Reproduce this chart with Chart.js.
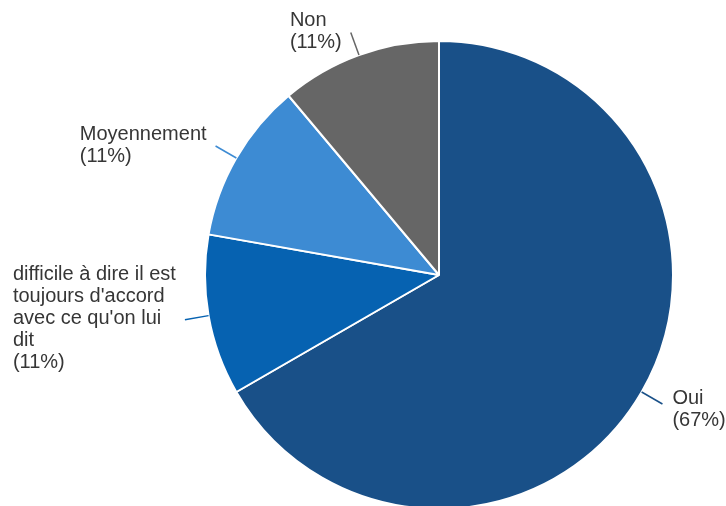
<!DOCTYPE html>
<html>
<head>
<meta charset="utf-8">
<script src="https://cdn.jsdelivr.net/npm/chart.js@4"></script>
<style>
  html, body { margin: 0; padding: 0; background: #ffffff; overflow: hidden; }
  #wrap { position: relative; width: 726px; height: 522px; }
</style>
</head>
<body>
<div id="wrap"><canvas id="myChart"></canvas></div>
<script>
// Données du graphique
const categories = ['Oui', "difficile à dire il est toujours d'accord avec ce qu'on lui dit", 'Moyennement', 'Non'];
const values = [6, 1, 1, 1];
const percentLabels = ['(67%)', '(11%)', '(11%)', '(11%)'];
const sliceColors = ['#195088', '#0662b1', '#3d8bd3', '#666666'];

// Découpe un texte en lignes selon une largeur max
function wrapText(ctx, text, maxWidth) {
  const words = text.split(' ');
  const lines = [];
  let line = '';
  words.forEach(w => {
    const test = line ? line + ' ' + w : w;
    if (line && ctx.measureText(test).width > maxWidth) {
      lines.push(line);
      line = w;
    } else {
      line = test;
    }
  });
  if (line) lines.push(line);
  return lines;
}

// Plugin pour les étiquettes extérieures avec traits de rappel
const outsideLabels = {
  id: 'outsideLabels',
  afterDraw(chart) {
    const ctx = chart.ctx;
    const meta = chart.getDatasetMeta(0);
    ctx.save();
    ctx.font = '20px "Liberation Sans", Arial, sans-serif';
    ctx.textBaseline = 'middle';
    ctx.textAlign = 'left';
    const lineH = 22;
    meta.data.forEach((arc, i) => {
      const mid = (arc.startAngle + arc.endAngle) / 2;
      const r = arc.outerRadius;
      const cos = Math.cos(mid), sin = Math.sin(mid);
      const x1 = arc.x + cos * r, y1 = arc.y + sin * r;
      const x2 = arc.x + cos * (r + 24), y2 = arc.y + sin * (r + 24);
      ctx.strokeStyle = sliceColors[i];
      ctx.lineWidth = 1.5;
      ctx.beginPath();
      ctx.moveTo(x1, y1);
      ctx.lineTo(x2, y2);
      ctx.stroke();

      const lines = wrapText(ctx, categories[i], 172);
      lines.push(percentLabels[i]);
      const blockW = Math.max(...lines.map(l => ctx.measureText(l).width));
      const left = cos >= 0 ? x2 + 10 : x2 - 9 - blockW;
      const top = y2 - (lines.length - 1) * lineH / 2 + (i === 0 ? 5 : -1);
      ctx.fillStyle = '#363636';
      lines.forEach((l, k) => ctx.fillText(l, left, top + k * lineH));
    });
    ctx.restore();
  }
};

const ctx = document.getElementById('myChart').getContext('2d');
const chart = new Chart(ctx, {
  type: 'pie',
  data: {
    labels: categories,
    datasets: [{
      data: values,
      backgroundColor: sliceColors,
      borderColor: '#ffffff',
      borderWidth: 2
    }]
  },
  options: {
    responsive: true,
    maintainAspectRatio: false,
    animation: false,
    layout: { padding: { top: 40, bottom: 12, left: 152, right: 0 } },
    plugins: {
      legend: { display: false },
      tooltip: { enabled: false }
    }
  },
  plugins: [outsideLabels]
});
</script>
</body>
</html>
